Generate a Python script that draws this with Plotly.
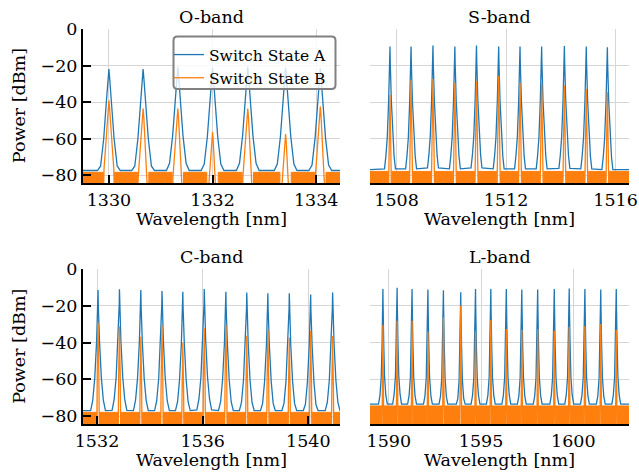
import numpy as np
import plotly.graph_objects as go

# ------------------------------------------------------------------ data
band_titles = ["O-band", "S-band", "C-band", "L-band"]
x_ranges = [[1329.50, 1334.46], [1507.03, 1516.49], [1531.47, 1541.20], [1588.98, 1603.02]]
x_tick_values = [[1330, 1332, 1334], [1508, 1512, 1516], [1532, 1536, 1540], [1590, 1595, 1600]]
y_tick_values = [0, -20, -40, -60, -80]
y_range = [-84.5, 0.0]
legend_names = ["Switch State A", "Switch State B"]

# peak wavelengths [nm] and peak powers [dBm]
o_centers = [1330.00, 1330.66, 1331.33, 1332.00, 1332.68, 1333.41, 1334.08]
o_peak_a = [-22.0, -22.0, -20.5, -21.0, -20.5, -21.0, -21.5]
o_peak_b = [-39.0, -43.5, -43.5, -56.5, -43.5, -57.5, -42.5]

s_centers = [1507.76, 1508.53, 1509.33, 1510.13, 1510.92, 1511.73,
             1512.51, 1513.30, 1514.13, 1514.93, 1515.70]
s_peak_a = [-9.6, -9.6, -9.1, -9.6, -9.1, -9.6, -9.6, -9.6, -9.3, -9.6, -10.0]
s_peak_b = [-36.0, -28.0, -27.4, -29.6, -28.5, -25.6, -29.6, -30.0, -31.0, -32.8, -34.6]

c_centers = [1532.04, 1532.85, 1533.66, 1534.46, 1535.25, 1536.06,
             1536.88, 1537.67, 1538.47, 1539.28, 1540.09, 1540.92]
c_peak_a = [-11.3, -10.9, -11.3, -11.8, -12.2, -10.7, -12.2, -12.6, -13.1, -13.1, -13.7, -12.6]
c_peak_b = [-29.1, -31.0, -36.8, -30.8, -40.1, -32.2, -30.4, -36.2, -32.8, -37.2, -33.7, -36.4]

l_centers = [1589.68, 1590.45, 1591.26, 1592.12, 1592.96, 1593.90, 1594.70, 1595.53,
             1596.37, 1597.21, 1598.07, 1598.97, 1599.78, 1600.63, 1601.49, 1602.33]
l_peak_a = [-10.7, -10.1, -10.7, -11.0, -11.4, -12.5, -10.7, -10.7,
            -10.7, -11.0, -11.0, -10.7, -10.5, -10.7, -11.0, -10.7]
l_peak_b = [-30.3, -28.1, -28.1, -34.0, -26.1, -19.7, -34.0, -27.6,
            -32.5, -33.1, -32.7, -33.6, -31.3, -30.9, -29.8, -33.1]

# noise-floor levels [dBm] (state A, state B) per band
floor_a = [-77.5, -77.0, -77.0, -73.5]
floor_b = [-78.5, -78.0, -78.0, -74.5]

# peak profiles: offset from the peak [nm] -> drop below the peak [dB]
o_prof_a_off = [0.0, 0.012, 0.05, 0.10, 0.16, 0.22]
o_prof_a_drop = [0.0, 4.0, 18.0, 38.0, 53.0, 62.0]
o_prof_b_off = [0.0, 0.012, 0.05, 0.095, 0.11]
o_prof_b_drop = [0.0, 4.0, 20.0, 38.0, 60.0]

s_prof_a_off = [0.0, 0.008, 0.05, 0.10, 0.15, 0.20]
s_prof_a_drop = [0.0, 8.0, 30.0, 50.0, 60.0, 67.0]
s_prof_b_off = [0.0, 0.008, 0.03, 0.055, 0.07]
s_prof_b_drop = [0.0, 8.0, 28.0, 45.0, 70.0]

c_prof_a_off = [0.0, 0.008, 0.055, 0.125, 0.20, 0.28]
c_prof_a_drop = [0.0, 8.0, 28.0, 48.0, 60.0, 66.0]
c_prof_b_off = [0.0, 0.008, 0.03, 0.05, 0.055]
c_prof_b_drop = [0.0, 8.0, 28.0, 45.0, 70.0]

l_prof_a_off = [0.0, 0.008, 0.045, 0.09, 0.16, 0.24]
l_prof_a_drop = [0.0, 8.0, 30.0, 48.0, 58.0, 64.0]
l_prof_b_off = [0.0, 0.008, 0.03, 0.05, 0.055]
l_prof_b_drop = [0.0, 8.0, 28.0, 45.0, 70.0]

bands = [
    (o_centers, o_peak_a, o_peak_b, o_prof_a_off, o_prof_a_drop, o_prof_b_off, o_prof_b_drop),
    (s_centers, s_peak_a, s_peak_b, s_prof_a_off, s_prof_a_drop, s_prof_b_off, s_prof_b_drop),
    (c_centers, c_peak_a, c_peak_b, c_prof_a_off, c_prof_a_drop, c_prof_b_off, c_prof_b_drop),
    (l_centers, l_peak_a, l_peak_b, l_prof_a_off, l_prof_a_drop, l_prof_b_off, l_prof_b_drop),
]

# ------------------------------------------------------------------ style
W, H = 639, 472
BLUE = "#1f77b4"
ORANGE = "#ff7f0e"
FONT = "DejaVu Serif"
FS = 17.5
GRID = "#d6d6d6"
# plot boxes in pixels: (left, right, top, bottom)
boxes = [(83, 340, 29, 183.3), (370, 629, 29, 183.3),
         (83, 340, 269.3, 424.3), (370, 629, 269.3, 424.3)]


def px_x(p):
    return p / W


def px_y(p):
    return 1 - p / H


def spectrum_a(centers, peaks, offs, drops, floor, lo, hi):
    offs = np.asarray(offs)
    drops = np.asarray(drops)
    xs, ys = [lo], [floor]
    for c, p in zip(centers, peaks):
        x = np.concatenate([c - offs[::-1], c + offs[1:]])
        y = np.maximum(np.concatenate([p - drops[::-1], p - drops[1:]]), floor)
        xs += list(x)
        ys += list(y)
    xs.append(hi)
    ys.append(floor)
    return xs, ys


def peaks_b(centers, peaks, offs, drops):
    offs = np.asarray(offs)
    drops = np.asarray(drops)
    xs, ys = [], []
    for c, p in zip(centers, peaks):
        xs += list(np.concatenate([c - offs[::-1], c + offs[1:]])) + [None]
        ys += list(np.concatenate([p - drops[::-1], p - drops[1:]])) + [None]
    return xs, ys


def floor_b_poly(centers, edge, floor, lo, hi, bottom=-95.0):
    bounds = [lo] + [v for c in centers for v in (c - edge, c + edge)] + [hi]
    xs, ys = [], []
    for x0, x1 in zip(bounds[0::2], bounds[1::2]):
        xs += [x0, x0, x1, x1, None]
        ys += [bottom, floor, floor, bottom, None]
    return xs, ys


fig = go.Figure()

# state A (drawn first, underneath)
for i, (cen, pa, pb, aoff, adrop, boff, bdrop) in enumerate(bands):
    sfx = "" if i == 0 else str(i + 1)
    lo, hi = x_ranges[i][0] - 0.05, x_ranges[i][1] + 0.05
    xs, ys = spectrum_a(cen, pa, aoff, adrop, floor_a[i], lo, hi)
    fig.add_trace(go.Scatter(x=xs, y=ys, mode="lines", name=legend_names[0],
                             line=dict(color=BLUE, width=1.3),
                             showlegend=(i == 0), legendgroup="A",
                             xaxis="x" + sfx, yaxis="y" + sfx))

# state B
for i, (cen, pa, pb, aoff, adrop, boff, bdrop) in enumerate(bands):
    sfx = "" if i == 0 else str(i + 1)
    lo, hi = x_ranges[i][0] - 0.05, x_ranges[i][1] + 0.05
    fx, fy = floor_b_poly(cen, boff[-1], floor_b[i], lo, hi)
    fig.add_trace(go.Scatter(x=fx, y=fy, mode="lines", fill="toself",
                             fillcolor=ORANGE, line=dict(color=ORANGE, width=1),
                             showlegend=False, legendgroup="B", hoverinfo="skip",
                             xaxis="x" + sfx, yaxis="y" + sfx))
    bx, by = peaks_b(cen, pb, boff, bdrop)
    fig.add_trace(go.Scatter(x=bx, y=by, mode="lines", name=legend_names[1],
                             line=dict(color=ORANGE, width=1.3),
                             showlegend=(i == 0), legendgroup="B",
                             connectgaps=False,
                             xaxis="x" + sfx, yaxis="y" + sfx))

layout = dict(
    width=W, height=H,
    margin=dict(l=0, r=0, t=0, b=0, pad=0),
    paper_bgcolor="white", plot_bgcolor="white",
    font=dict(family=FONT, size=FS, color="black"),
    showlegend=True,
    legend=dict(x=px_x(169), y=px_y(38), xanchor="left", yanchor="top",
                bgcolor="rgba(0,0,0,0)", borderwidth=0,
                font=dict(family=FONT, size=15.5, color="black"),
                tracegroupgap=0),
)

annotations = []
shapes = []
for i in range(4):
    sfx = "" if i == 0 else str(i + 1)
    l, r, t, b = boxes[i]
    left_col = i in (0, 2)
    layout["xaxis" + sfx] = dict(
        domain=[px_x(l), px_x(r)], anchor="y" + sfx, range=x_ranges[i],
        tickmode="array", tickvals=x_tick_values[i],
        ticktext=[str(v) for v in x_tick_values[i]],
        showgrid=True, gridcolor=GRID, gridwidth=1, zeroline=False, automargin=False,
        showline=True, linecolor="black", linewidth=2,
        ticks="inside" if left_col else "", ticklen=8, tickwidth=2, tickcolor="black",
        tickfont=dict(family=FONT, size=FS), fixedrange=True,
    )
    layout["yaxis" + sfx] = dict(
        domain=[px_y(b), px_y(t)], anchor="x" + sfx, range=y_range,
        tickmode="array", tickvals=y_tick_values,
        showgrid=True, gridcolor=GRID, gridwidth=1, zeroline=False, automargin=False,
        showline=left_col, linecolor="black", linewidth=2,
        showticklabels=left_col,
        ticks="inside" if left_col else "", ticklen=8, tickwidth=2, tickcolor="black",
        tickfont=dict(family=FONT, size=FS), fixedrange=True,
    )
    cx = (l + r) / 2
    annotations.append(dict(text=band_titles[i], x=px_x(cx), y=px_y(t - 12),
                            xref="paper", yref="paper", showarrow=False,
                            xanchor="center", yanchor="middle",
                            font=dict(family=FONT, size=FS)))
    annotations.append(dict(text="Wavelength [nm]", x=px_x(cx), y=px_y(b + 36),
                            xref="paper", yref="paper", showarrow=False,
                            xanchor="center", yanchor="middle",
                            font=dict(family=FONT, size=FS)))
    if left_col:
        annotations.append(dict(text="Power [dBm]", x=px_x(19), y=px_y((t + b) / 2),
                                xref="paper", yref="paper", showarrow=False,
                                textangle=-90, xanchor="center", yanchor="middle",
                                font=dict(family=FONT, size=FS)))

# rounded legend frame
x0, x1, y0, y1, rr = 173.5, 335.5, 36.5, 89.0, 4.0


def P(x, y):
    return f"{px_x(x):.5f},{px_y(y):.5f}"


path = (f"M {P(x0 + rr, y0)} L {P(x1 - rr, y0)} Q {P(x1, y0)} {P(x1, y0 + rr)} "
        f"L {P(x1, y1 - rr)} Q {P(x1, y1)} {P(x1 - rr, y1)} "
        f"L {P(x0 + rr, y1)} Q {P(x0, y1)} {P(x0, y1 - rr)} "
        f"L {P(x0, y0 + rr)} Q {P(x0, y0)} {P(x0 + rr, y0)} Z")
shapes.append(dict(type="path", path=path, xref="paper", yref="paper",
                   fillcolor="rgba(255,255,255,0.8)",
                   line=dict(color="#808080", width=2), layer="above"))

layout["annotations"] = annotations
layout["shapes"] = shapes
fig.update_layout(**layout)

fig.write_html(
    "out.html",
    config={"displayModeBar": False},
    post_script="document.body.style.margin='0px';document.body.style.padding='0px';"
                "document.body.style.overflow='hidden';",
)
